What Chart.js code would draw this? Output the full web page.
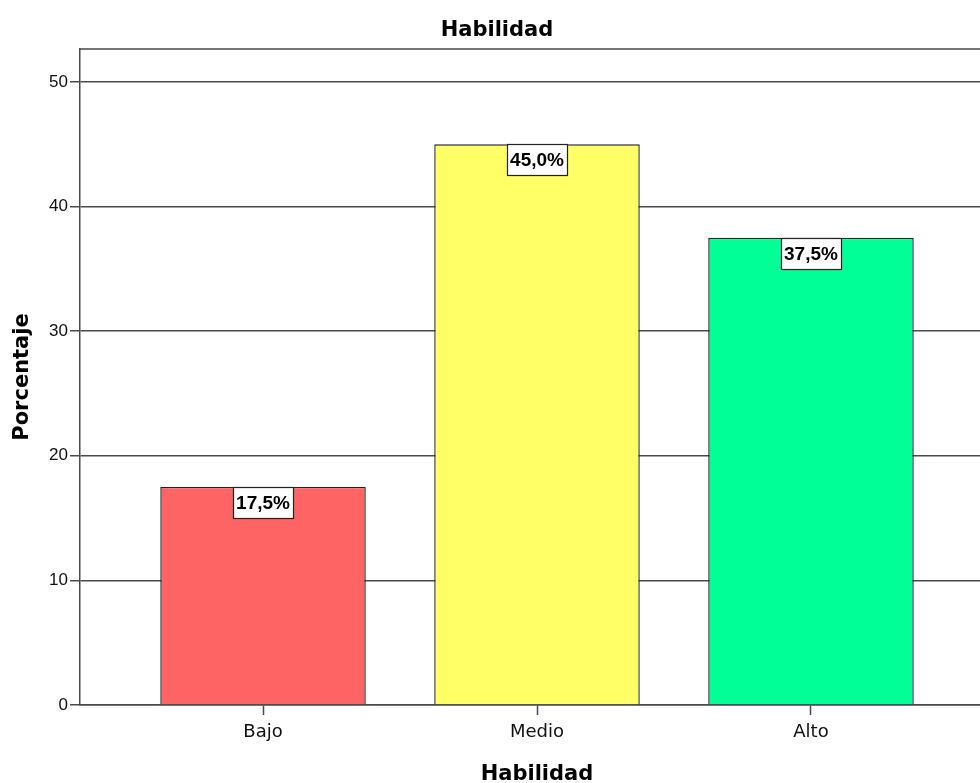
<!DOCTYPE html>
<html>
<head>
<meta charset="utf-8">
<script src="https://cdn.jsdelivr.net/npm/chart.js@4"></script>
<style>
  html, body { margin: 0; padding: 0; background: #fff; overflow: hidden; }
  #wrap { width: 994px; height: 783px; }
</style>
</head>
<body>
<div id="wrap"><canvas id="c" width="994" height="783"></canvas></div>
<script>
// Habilidad: percentage of cases per level
const categories = ['Bajo', 'Medio', 'Alto'];
const percentages = [17.5, 45.0, 37.5];
const barColors = ['#ff6464', '#ffff66', '#00ff96'];
const yTicks = [0, 10, 20, 30, 40, 50];

const TEXT_FONT = '"DejaVu Sans", Verdana, sans-serif';
const NUM_FONT = '"Liberation Sans", Arial, sans-serif';
const LINE = '#4a4a4a';

// Top and right frame lines of the plot box
const frame = {
  id: 'frame',
  afterDraw(chart) {
    const { ctx, chartArea: a } = chart;
    ctx.save();
    ctx.strokeStyle = LINE;
    ctx.lineWidth = 1.5;
    ctx.beginPath();
    ctx.moveTo(a.left, a.top);
    ctx.lineTo(a.right, a.top);
    ctx.lineTo(a.right, a.bottom);
    ctx.stroke();
    ctx.restore();
  }
};

// Boxed value labels just under each bar top
const valueBoxes = {
  id: 'valueBoxes',
  afterDatasetsDraw(chart) {
    const { ctx } = chart;
    const meta = chart.getDatasetMeta(0);
    ctx.save();
    ctx.font = 'bold 19px ' + NUM_FONT;
    ctx.textAlign = 'center';
    ctx.textBaseline = 'middle';
    meta.data.forEach((el, i) => {
      const txt = percentages[i].toFixed(1).replace('.', ',') + '%';
      const w = 60, h = 31;
      const x = Math.round(el.x - w / 2) + 0.5;
      const y = Math.round(el.y) + 0.5;
      ctx.fillStyle = '#fff';
      ctx.fillRect(x, y, w, h);
      ctx.strokeStyle = '#222';
      ctx.lineWidth = 1.2;
      ctx.strokeRect(x, y, w, h);
      ctx.fillStyle = '#000';
      ctx.fillText(txt, el.x, y + h / 2 + 1);
    });
    ctx.restore();
  }
};

new Chart(document.getElementById('c'), {
  type: 'bar',
  data: {
    datasets: [{
      data: percentages.map((v, i) => ({ x: i, y: v })),
      backgroundColor: barColors,
      borderColor: '#222',
      borderWidth: 1.4,
      barPercentage: 0.75,
      categoryPercentage: 1
    }]
  },
  options: {
    responsive: false,
    animation: false,
    layout: { padding: { left: 0, right: 0, top: 0, bottom: 0 } },
    plugins: {
      legend: { display: false },
      tooltip: { enabled: false },
      title: {
        display: true,
        text: 'Habilidad',
        color: '#000',
        font: { family: TEXT_FONT, size: 21, weight: 'bold', lineHeight: 1.2 },
        padding: { top: 18, bottom: 5.8 }
      }
    },
    scales: {
      x: {
        type: 'linear',
        offset: false,
        min: -0.668,
        max: 2.668,
        afterBuildTicks: s => { s.ticks = categories.map((_, i) => ({ value: i })); },
        afterFit: s => { s.height = 78; },
        ticks: {
          callback: v => categories[v],
          color: '#111',
          font: { family: TEXT_FONT, size: 18 },
          padding: 7,
          maxRotation: 0,
          autoSkip: false
        },
        grid: {
          offset: false,
          drawOnChartArea: false,
          drawTicks: true,
          tickLength: 10,
          tickColor: LINE,
          tickWidth: 1.5
        },
        border: { display: true, color: LINE, width: 1.5 },
        title: {
          display: true,
          text: 'Habilidad',
          color: '#000',
          font: { family: TEXT_FONT, size: 21, weight: 'bold', lineHeight: 0.8 },
          padding: { top: 4, bottom: 0 }
        }
      },
      y: {
        min: 0,
        max: 52.65,
        afterBuildTicks: s => { s.ticks = yTicks.map(v => ({ value: v })); },
        afterFit: s => { s.width = 80; },
        ticks: {
          color: '#111',
          font: { family: NUM_FONT, size: 17 },
          padding: 2
        },
        grid: {
          color: LINE,
          lineWidth: 1.5,
          drawTicks: true,
          tickLength: 10,
          tickColor: LINE
        },
        border: { display: true, color: LINE, width: 1.5 },
        title: {
          display: true,
          text: 'Porcentaje',
          color: '#000',
          font: { family: TEXT_FONT, size: 21, weight: 'bold', lineHeight: 1.2 },
          padding: { top: 10, bottom: 0 }
        }
      }
    }
  },
  plugins: [frame, valueBoxes]
});
</script>
</body>
</html>
